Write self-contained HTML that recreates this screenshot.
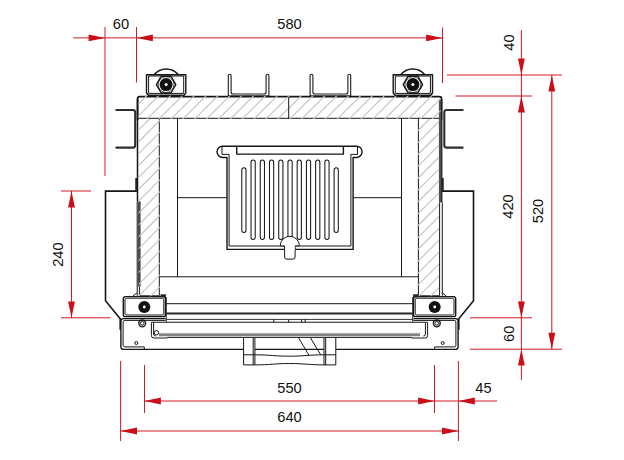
<!DOCTYPE html>
<html><head><meta charset="utf-8"><title>Drawing</title>
<style>html,body{margin:0;padding:0;background:#fff;}svg{display:block}</style>
</head><body>
<svg width="624" height="460" viewBox="0 0 624 460">
<rect width="624" height="460" fill="#fff"/>
<style>
.k{stroke:#161616;stroke-width:1.4;fill:none;stroke-linejoin:round}
.n{stroke:#161616;stroke-width:1;fill:none;stroke-linejoin:round}
.f{fill:#fff}
</style>
<clipPath id="cl"><rect x="0" y="0" width="290" height="460"/></clipPath><clipPath id="cr"><rect x="290" y="0" width="334" height="460"/></clipPath>
<g clip-path="url(#cl)"><path d="M136.1,177.9 V191.1 H105.5 V300.7 L120.2,318.7 V329.7" fill="none" stroke="#161616" stroke-width="1.6" stroke-linejoin="miter"/>
<path d="M291,96.6 H139.7 Q137.6,96.6 137.6,98.7 V120" fill="none" stroke="#161616" stroke-width="1.8"/>
<path class="n" d="M138.6,118.3 H291"/>
<path class="n" d="M177.5,118.3 V276.8"/>
<path d="M228.3,75.6 Q228.3,74.2 229.7,74.2 Q231.1,74.2 231.1,75.6 V92 Q231.1,94 233,94 H264.2 Q266.1,94 266.1,92 V75.6 Q266.1,74.2 267.5,74.2 Q268.9,74.2 268.9,75.6 V95.8 H228.3 Z" stroke="#1c1c1c" stroke-width="1.1" fill="#ffffff"/>
<path class="k f" d="M146.5,74.8 H185.8 V93 L184,95.2 H148.3 L146.5,93 Z"/>
<path class="n" d="M148.6,76 H183.7 V93.4 H148.6 Z"/>
<path d="M154,74.8 A15.8,15.8 0 0 1 178.5,74.8" stroke="#161616" stroke-width="1.4" fill="none"/>
<polygon class="k f" points="175.80,84.60 170.95,93.00 161.25,93.00 156.40,84.60 161.25,76.20 170.95,76.20"/>
<circle cx="166.1" cy="84.6" r="7.9" fill="none" stroke="#161616" stroke-width="0.7"/>
<circle cx="166.1" cy="84.6" r="6.5" fill="#111"/>
<circle cx="166.1" cy="84.6" r="1.5" fill="#ffffff"/>
<rect class="k f" x="123.3" y="296.6" width="42.2" height="20" rx="2.2"/>
<rect class="n" x="125" y="298.2" width="38.8" height="16.8" rx="1.5"/>
<circle cx="144.3" cy="307" r="6" fill="#111"/>
<circle cx="144.3" cy="307" r="1.4" fill="#ffffff"/>
<rect x="160.5" y="294.3" width="5.4" height="3" fill="#222"/>
<circle cx="142.2" cy="323.3" r="3.4" fill="none" stroke="#2a2a2a" stroke-width="1.5"/>
<circle cx="142.2" cy="323.3" r="1.8" fill="none" stroke="#222" stroke-width="1"/>
<path class="k" d="M165.5,318.6 H123.5 Q120.9,318.6 120.9,321 V347 Q120.9,349.4 123.5,349.4 H291"/>
<path class="n" d="M165.5,320.4 H124.8 Q123.1,320.4 123.1,322 V345.3 Q123.1,346.9 124.8,346.9 H144.3 V349.4"/>
<circle class="n" cx="136.3" cy="343" r="1.5" fill="#ffffff"/>
<path class="n" d="M166.2,297 V321.8"/>
<path class="n" d="M166.2,303.7 H291"/>
<path d="M166.2,313.5 H291" stroke="#262626" stroke-width="2.2" fill="none"/>
<path d="M166.2,319.4 H291" stroke="#1c1c1c" stroke-width="0.9" fill="none"/>
<path d="M151.6,322.3 H291" stroke="#161616" stroke-width="1.1" fill="none"/>
<path class="n" d="M151.4,322.3 V335.7 Q151.4,338 153.8,338 H167.4 V337.4 H291"/>
<path class="n" d="M153.6,323 V334 Q153.6,336 155.6,336"/>
<path d="M159,335 H291" stroke="#808080" stroke-width="2.6" fill="none"/>
<path d="M158.5,333.3 H291" stroke="#999" stroke-width="0.8" fill="none"/></g>
<g clip-path="url(#cr)"><g transform="translate(579,0) scale(-1,1)"><path d="M136.1,177.9 V191.1 H105.5 V300.7 L120.2,318.7 V329.7" fill="none" stroke="#161616" stroke-width="1.6" stroke-linejoin="miter"/>
<path d="M291,96.6 H139.7 Q137.6,96.6 137.6,98.7 V120" fill="none" stroke="#161616" stroke-width="1.8"/>
<path class="n" d="M138.6,118.3 H291"/>
<path class="n" d="M177.5,118.3 V276.8"/>
<path d="M228.3,75.6 Q228.3,74.2 229.7,74.2 Q231.1,74.2 231.1,75.6 V92 Q231.1,94 233,94 H264.2 Q266.1,94 266.1,92 V75.6 Q266.1,74.2 267.5,74.2 Q268.9,74.2 268.9,75.6 V95.8 H228.3 Z" stroke="#1c1c1c" stroke-width="1.1" fill="#ffffff"/>
<path class="k f" d="M146.5,74.8 H185.8 V93 L184,95.2 H148.3 L146.5,93 Z"/>
<path class="n" d="M148.6,76 H183.7 V93.4 H148.6 Z"/>
<path d="M154,74.8 A15.8,15.8 0 0 1 178.5,74.8" stroke="#161616" stroke-width="1.4" fill="none"/>
<polygon class="k f" points="175.80,84.60 170.95,93.00 161.25,93.00 156.40,84.60 161.25,76.20 170.95,76.20"/>
<circle cx="166.1" cy="84.6" r="7.9" fill="none" stroke="#161616" stroke-width="0.7"/>
<circle cx="166.1" cy="84.6" r="6.5" fill="#111"/>
<circle cx="166.1" cy="84.6" r="1.5" fill="#ffffff"/>
<rect class="k f" x="123.3" y="296.6" width="42.2" height="20" rx="2.2"/>
<rect class="n" x="125" y="298.2" width="38.8" height="16.8" rx="1.5"/>
<circle cx="144.3" cy="307" r="6" fill="#111"/>
<circle cx="144.3" cy="307" r="1.4" fill="#ffffff"/>
<rect x="160.5" y="294.3" width="5.4" height="3" fill="#222"/>
<circle cx="142.2" cy="323.3" r="3.4" fill="none" stroke="#2a2a2a" stroke-width="1.5"/>
<circle cx="142.2" cy="323.3" r="1.8" fill="none" stroke="#222" stroke-width="1"/>
<path class="k" d="M165.5,318.6 H123.5 Q120.9,318.6 120.9,321 V347 Q120.9,349.4 123.5,349.4 H291"/>
<path class="n" d="M165.5,320.4 H124.8 Q123.1,320.4 123.1,322 V345.3 Q123.1,346.9 124.8,346.9 H144.3 V349.4"/>
<circle class="n" cx="136.3" cy="343" r="1.5" fill="#ffffff"/>
<path class="n" d="M166.2,297 V321.8"/>
<path class="n" d="M166.2,303.7 H291"/>
<path d="M166.2,313.5 H291" stroke="#262626" stroke-width="2.2" fill="none"/>
<path d="M166.2,319.4 H291" stroke="#1c1c1c" stroke-width="0.9" fill="none"/>
<path d="M151.6,322.3 H291" stroke="#161616" stroke-width="1.1" fill="none"/>
<path class="n" d="M151.4,322.3 V335.7 Q151.4,338 153.8,338 H167.4 V337.4 H291"/>
<path class="n" d="M153.6,323 V334 Q153.6,336 155.6,336"/>
<path d="M159,335 H291" stroke="#808080" stroke-width="2.6" fill="none"/>
<path d="M158.5,333.3 H291" stroke="#999" stroke-width="0.8" fill="none"/></g></g>
<path d="M116.3,110 H132.8 Q135.2,110 135.2,112.4 V145.2 Q135.2,147.6 132.8,147.6 H116.3 M462.7,110 H446.7 Q444.3,110 444.3,112.4 V145.2 Q444.3,147.6 446.7,147.6 H462.7" stroke="#2e2e2e" stroke-width="2.1" stroke-linecap="round" fill="none"/>
<path class="n" d="M159.3,276.8 H418.4"/>
<path class="n" d="M159.3,118.3 V295.8 H139.5 M418.4,118.3 V295.8 H439.5"/>
<path d="M137.5,99 V201.4" stroke="#161616" stroke-width="1.5" fill="none"/>
<path class="n" d="M137.2,201.4 V295.8 M139.4,286.5 V295.8 M133,295.8 L136.7,293.2"/>
<rect x="137.7" y="201.4" width="2.9" height="85.1" fill="#4a4a4a"/>
<rect x="438.9" y="99" width="2.4" height="103.4" fill="#505050"/>
<rect x="441.1" y="99" width="1.3" height="103.4" fill="#1c1c1c"/>
<path class="n" d="M439.6,202.4 V295.8 M442.3,202.4 V295.8 M446,295.8 L442.5,293.2"/>
<clipPath id="hb"><rect x="138.2" y="95.8" width="302.6" height="23.10000000000001"/></clipPath>
<path clip-path="url(#hb)" d="M122.52,119.90 L147.62,94.80 M134.40,119.90 L159.50,94.80 M146.28,119.90 L171.38,94.80 M158.16,119.90 L183.26,94.80 M170.04,119.90 L195.14,94.80 M181.92,119.90 L207.02,94.80 M193.80,119.90 L218.90,94.80 M205.68,119.90 L230.78,94.80 M217.56,119.90 L242.66,94.80 M229.44,119.90 L254.54,94.80 M241.32,119.90 L266.42,94.80 M253.20,119.90 L278.30,94.80 M265.08,119.90 L290.18,94.80 M276.96,119.90 L302.06,94.80 M288.84,119.90 L313.94,94.80 M300.72,119.90 L325.82,94.80 M312.60,119.90 L337.70,94.80 M324.48,119.90 L349.58,94.80 M336.36,119.90 L361.46,94.80 M348.24,119.90 L373.34,94.80 M360.12,119.90 L385.22,94.80 M372.00,119.90 L397.10,94.80 M383.88,119.90 L408.98,94.80 M395.76,119.90 L420.86,94.80 M407.64,119.90 L432.74,94.80 M419.52,119.90 L444.62,94.80 M431.40,119.90 L456.50,94.80 " stroke="#c2c2c2" stroke-width="1.1" fill="none"/>
<clipPath id="hl"><rect x="138.6" y="118.9" width="21.30000000000001" height="177.4"/></clipPath>
<path clip-path="url(#hl)" d="M-28.82,297.30 L150.58,117.90 M-16.94,297.30 L162.46,117.90 M-5.06,297.30 L174.34,117.90 M6.82,297.30 L186.22,117.90 M18.70,297.30 L198.10,117.90 M30.58,297.30 L209.98,117.90 M42.46,297.30 L221.86,117.90 M54.34,297.30 L233.74,117.90 M66.22,297.30 L245.62,117.90 M78.10,297.30 L257.50,117.90 M89.98,297.30 L269.38,117.90 M101.86,297.30 L281.26,117.90 M113.74,297.30 L293.14,117.90 M125.62,297.30 L305.02,117.90 M137.50,297.30 L316.90,117.90 M149.38,297.30 L328.78,117.90 " stroke="#c2c2c2" stroke-width="1.1" fill="none"/>
<clipPath id="hr"><rect x="417.8" y="118.9" width="21.30000000000001" height="177.4"/></clipPath>
<path clip-path="url(#hr)" d="M239.42,297.30 L418.82,117.90 M251.30,297.30 L430.70,117.90 M263.18,297.30 L442.58,117.90 M275.06,297.30 L454.46,117.90 M286.94,297.30 L466.34,117.90 M298.82,297.30 L478.22,117.90 M310.70,297.30 L490.10,117.90 M322.58,297.30 L501.98,117.90 M334.46,297.30 L513.86,117.90 M346.34,297.30 L525.74,117.90 M358.22,297.30 L537.62,117.90 M370.10,297.30 L549.50,117.90 M381.98,297.30 L561.38,117.90 M393.86,297.30 L573.26,117.90 M405.74,297.30 L585.14,117.90 M417.62,297.30 L597.02,117.90 M429.50,297.30 L608.90,117.90 " stroke="#c2c2c2" stroke-width="1.1" fill="none"/>
<path class="n" d="M288.7,97 V118.3"/>
<path class="n" d="M177.5,197.7 H227 M353.1,197.7 H401.5"/>
<path class="k f" d="M222.65,146.2 H356.45 A5.65,5.65 0 0 1 356.45,157.5 H353.1 V249.4 H227 V157.5 H222.65 A5.65,5.65 0 0 1 222.65,146.2 Z"/>
<path class="n" d="M222,146.8 V154.4 H229.1 V246 H350.9 V154.4 H357.5 V146.8"/>
<path class="k" d="M236.7,146.2 V154.1 H343.4 V146.2"/>
<rect x="241.80" y="167.8" width="4.2" height="64.6" rx="2.1" style="fill:none;stroke:#161616;stroke-width:1.05"/>
<rect x="251.03" y="159.9" width="4.2" height="79.5" rx="2.1" style="fill:none;stroke:#161616;stroke-width:1.05"/>
<rect x="260.26" y="159.9" width="4.2" height="79.5" rx="2.1" style="fill:none;stroke:#161616;stroke-width:1.05"/>
<rect x="269.49" y="159.9" width="4.2" height="79.5" rx="2.1" style="fill:none;stroke:#161616;stroke-width:1.05"/>
<rect x="278.72" y="159.9" width="4.2" height="79.5" rx="2.1" style="fill:none;stroke:#161616;stroke-width:1.05"/>
<rect x="287.95" y="159.9" width="4.2" height="79.5" rx="2.1" style="fill:none;stroke:#161616;stroke-width:1.05"/>
<rect x="297.18" y="159.9" width="4.2" height="79.5" rx="2.1" style="fill:none;stroke:#161616;stroke-width:1.05"/>
<rect x="306.41" y="159.9" width="4.2" height="79.5" rx="2.1" style="fill:none;stroke:#161616;stroke-width:1.05"/>
<rect x="315.64" y="159.9" width="4.2" height="79.5" rx="2.1" style="fill:none;stroke:#161616;stroke-width:1.05"/>
<rect x="324.87" y="159.9" width="4.2" height="79.5" rx="2.1" style="fill:none;stroke:#161616;stroke-width:1.05"/>
<rect x="334.10" y="167.8" width="4.2" height="64.6" rx="2.1" style="fill:none;stroke:#161616;stroke-width:1.05"/>
<circle class="n f" cx="156.4" cy="332.8" r="2.2"/>
<path class="n f" d="M280.2,245.9 A9.6,9.6 0 0 1 299.4,245.9 H295.1 V257 Q295.1,259.1 293,259.1 H286.7 Q284.6,259.1 284.6,257 V245.9 Z"/>
<rect x="285.1" y="245" width="9.5" height="5.5" style="fill:#fff"/>
<path class="n f" d="M243.6,338 V364.9 H254.9 V338"/><path class="n" d="M253.2,338 V364.9 M243.6,354.8 H254.9"/>
<path class="n f" d="M324,338 V364.9 H335.8 V338"/><path class="n" d="M325.7,338 V364.9 M324,354.8 H335.8"/>
<path class="n" d="M254.9,354.8 C270,354.8 275,356.2 289.5,356.2 S310,354.8 324,354.8"/>
<path class="n" d="M254.9,364.9 C270,364.9 275,363.5 289.5,363.5 S310,364.9 324,364.9"/>
<path class="n" d="M298.7,338 L309,355.4 M310.6,338 L320.7,354.8"/>
<path class="n" d="M273.8,319.4 V322.3 M288.1,319.4 L289,322.3 M301.2,319.4 L302,322.3 M305.2,319.4 V322.3"/>
<g stroke="#d21a25" stroke-width="1" fill="none">
<line x1="73" y1="37.9" x2="442.5" y2="37.9"/>
<line x1="105" y1="27" x2="105" y2="176"/>
<line x1="136.5" y1="27" x2="136.5" y2="82.5"/>
<line x1="442.5" y1="27.5" x2="442.5" y2="83"/>
<line x1="521.4" y1="30" x2="521.4" y2="380"/>
<line x1="551.8" y1="75" x2="551.8" y2="349.2"/>
<line x1="447" y1="75" x2="562" y2="75"/>
<line x1="455.5" y1="96" x2="532" y2="96"/>
<line x1="470" y1="317.8" x2="532" y2="317.8"/>
<line x1="470" y1="349.2" x2="562" y2="349.2"/>
<line x1="71.5" y1="191" x2="71.5" y2="317.8"/>
<line x1="61" y1="191" x2="91" y2="191"/>
<line x1="61" y1="317.8" x2="110.5" y2="317.8"/>
<line x1="144.5" y1="401" x2="497" y2="401"/>
<line x1="120.6" y1="431" x2="458.4" y2="431"/>
<line x1="120.6" y1="361" x2="120.6" y2="441"/>
<line x1="144.5" y1="365" x2="144.5" y2="413"/>
<line x1="434.5" y1="365" x2="434.5" y2="413"/>
<line x1="458.4" y1="361" x2="458.4" y2="441"/>
</g>
<g fill="#cb0e18" stroke="none">
<polygon points="105.00,37.90 88.60,41.30 88.60,34.50"/>
<polygon points="136.50,37.90 152.90,34.50 152.90,41.30"/>
<polygon points="442.50,37.90 426.10,41.30 426.10,34.50"/>
<polygon points="521.40,75.00 518.00,58.60 524.80,58.60"/>
<polygon points="521.40,96.00 524.80,112.40 518.00,112.40"/>
<polygon points="521.40,317.80 518.00,301.40 524.80,301.40"/>
<polygon points="521.40,349.20 524.80,365.60 518.00,365.60"/>
<polygon points="551.80,75.00 555.20,91.40 548.40,91.40"/>
<polygon points="551.80,349.20 548.40,332.80 555.20,332.80"/>
<polygon points="71.50,191.00 74.90,207.40 68.10,207.40"/>
<polygon points="71.50,317.80 68.10,301.40 74.90,301.40"/>
<polygon points="144.50,401.00 160.90,397.60 160.90,404.40"/>
<polygon points="434.50,401.00 418.10,404.40 418.10,397.60"/>
<polygon points="458.40,401.00 474.80,397.60 474.80,404.40"/>
<polygon points="120.60,431.00 137.00,427.60 137.00,434.40"/>
<polygon points="458.40,431.00 442.00,434.40 442.00,427.60"/>
</g>
<g font-family="Liberation Sans, Arial, sans-serif" font-size="14.67" fill="#111" text-anchor="middle">
<text x="121" y="29.3">60</text>
<text x="289.5" y="29.3">580</text>
<text x="289.5" y="393">550</text>
<text x="289.5" y="421.7">640</text>
<text x="483.5" y="393">45</text>
<text transform="translate(514,42.5) rotate(-90)">40</text>
<text transform="translate(513.2,206.5) rotate(-90)">420</text>
<text transform="translate(543.2,211) rotate(-90)">520</text>
<text transform="translate(513.8,333.8) rotate(-90)">60</text>
<text transform="translate(62.8,254.6) rotate(-90)">240</text>
</g>
</svg>
</body></html>
